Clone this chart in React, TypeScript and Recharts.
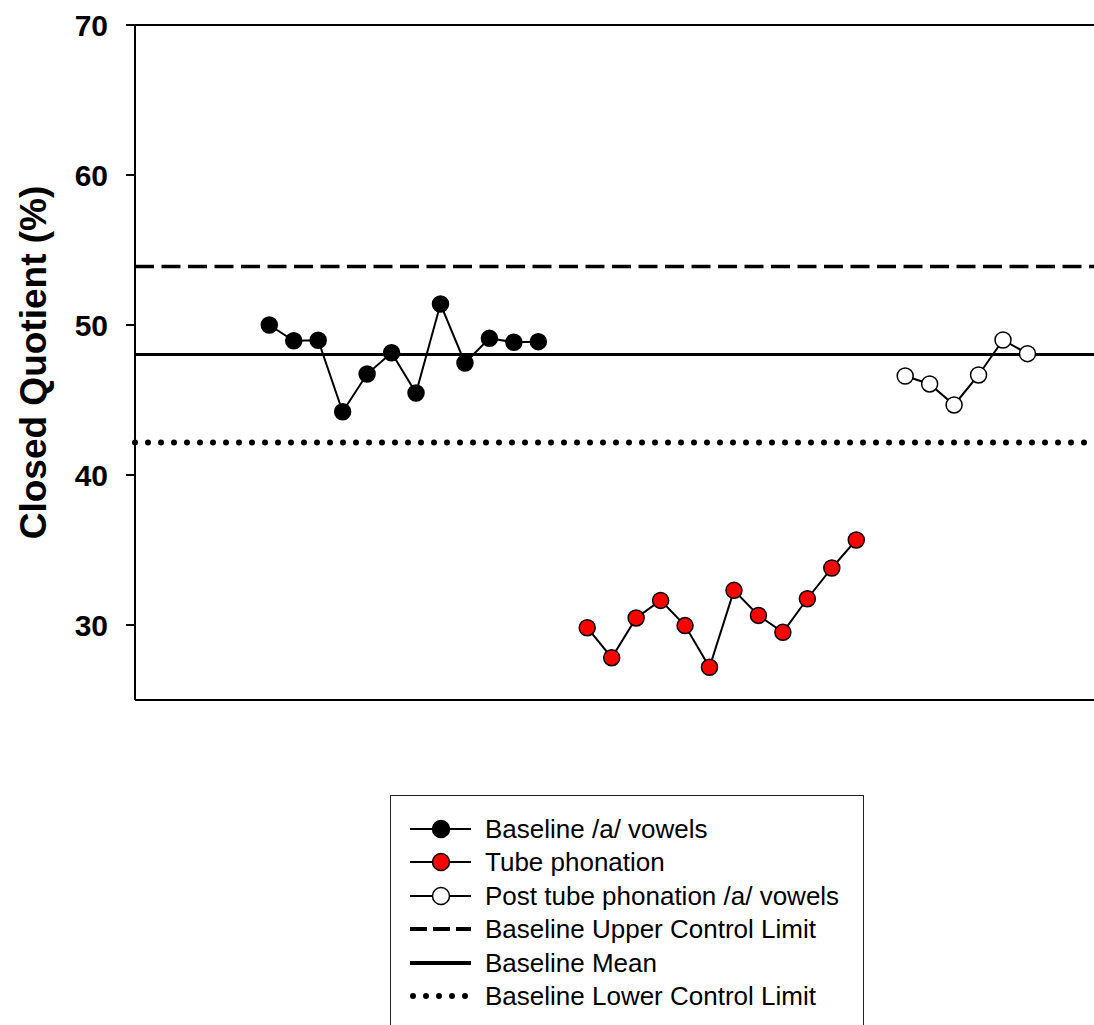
import React from 'react';
import { ComposedChart, Line, XAxis, YAxis, ReferenceLine } from 'recharts';

// session index on the x axis (gaps between the three phases)
const baselineX = [1, 2, 3, 4, 5, 6, 7, 8, 9, 10, 11, 12];
const baselineCQ = [50.0, 48.95, 48.98, 44.22, 46.73, 48.15, 45.47, 51.4, 47.47, 49.11, 48.85, 48.89];

const tubeX = [14, 15, 16, 17, 18, 19, 20, 21, 22, 23, 24, 25];
const tubeCQ = [29.82, 27.82, 30.47, 31.64, 29.96, 27.18, 32.31, 30.64, 29.51, 31.75, 33.8, 35.67];

const postX = [27, 28, 29, 30, 31, 32];
const postCQ = [46.6, 46.07, 44.67, 46.67, 49.0, 48.09];

const baselineMean = 48.03;
const upperControlLimit = 53.9;
const lowerControlLimit = 42.17;

const yTicks = [30, 40, 50, 60, 70];
const yDomain: [number, number] = [25, 70];
const xDomain: [number, number] = [-4.49, 34.72];

const FONT = 'Arial, "Liberation Sans", sans-serif';

const toPoints = (xs: number[], ys: number[]) => xs.map((x, i) => ({ x, cq: ys[i] }));

const baselineData = toPoints(baselineX, baselineCQ);
const tubeData = toPoints(tubeX, tubeCQ);
const postData = toPoints(postX, postCQ);

const YLabel = (props: any) => {
    const vb = props.viewBox || { x: 0, y: 0, height: 0 };
    const cx = vb.x + 33;
    const cy = vb.y + vb.height / 2;
    return (
        <text
            x={cx}
            y={cy}
            transform={`rotate(-90, ${cx}, ${cy})`}
            textAnchor="middle"
            dominantBaseline="central"
            fontFamily={FONT}
            fontWeight="bold"
            fontSize={37}
            fill="#000"
        >
            Closed Quotient (%)
        </text>
    );
};

type LegendRow = { label: string; kind: 'marker' | 'dash' | 'solid' | 'dot'; fill?: string };

const legendRows: LegendRow[] = [
    { label: 'Baseline /a/ vowels', kind: 'marker', fill: '#000' },
    { label: 'Tube phonation', kind: 'marker', fill: '#ff0000' },
    { label: 'Post tube phonation /a/ vowels', kind: 'marker', fill: '#fff' },
    { label: 'Baseline Upper Control Limit', kind: 'dash' },
    { label: 'Baseline Mean', kind: 'solid' },
    { label: 'Baseline Lower Control Limit', kind: 'dot' },
];

const LegendSymbol = ({ row }: { row: LegendRow }) => {
    const common = { x1: 4, x2: 65, y1: 17, y2: 17, stroke: '#000' };
    return (
        <svg width={70} height={34} style={{ position: 'absolute', left: 15, top: 0 }}>
            {row.kind === 'marker' && (
                <>
                    <line {...common} strokeWidth={2} />
                    <circle cx={35} cy={17} r={8.5} fill={row.fill} stroke="#000" strokeWidth={1.5} />
                </>
            )}
            {row.kind === 'dash' && <line {...common} strokeWidth={4} strokeDasharray="17 6" />}
            {row.kind === 'solid' && <line {...common} strokeWidth={4} />}
            {row.kind === 'dot' && (
                <line {...common} x1={7} x2={60} strokeWidth={6} strokeDasharray="0 13" strokeLinecap="round" />
            )}
        </svg>
    );
};

const ChartLegend = () => (
    <div
        style={{
            position: 'absolute',
            left: 390,
            top: 795,
            width: 472,
            height: 260,
            border: '1.5px solid #222',
            background: '#fff',
            fontFamily: FONT,
        }}
    >
        {legendRows.map((row, i) => (
            <div key={row.label} style={{ position: 'absolute', left: 0, top: 16 + i * 33.4, height: 34, width: '100%' }}>
                <LegendSymbol row={row} />
                <span style={{ position: 'absolute', left: 94, top: 0, lineHeight: '34px', fontSize: 26, color: '#000', whiteSpace: 'nowrap' }}>
                    {row.label}
                </span>
            </div>
        ))}
    </div>
);

const dotStyle = (fill: string) => ({ r: 8, fill, stroke: '#000', strokeWidth: 1.5 });

export default function App() {
    return (
        <div style={{ position: 'relative', width: 1094, height: 1025, overflow: 'hidden', background: '#fff' }}>
            <style>{`body { margin: 0; }`}</style>
            <ComposedChart width={1094} height={1025} margin={{ top: 25, right: 0, bottom: 325, left: 0 }}>
                <XAxis type="number" dataKey="x" domain={xDomain} allowDataOverflow hide />
                <YAxis
                    type="number"
                    domain={yDomain}
                    ticks={yTicks}
                    width={135}
                    tickSize={9}
                    tickMargin={18}
                    axisLine={{ stroke: '#000', strokeWidth: 2 }}
                    tickLine={{ stroke: '#000', strokeWidth: 2 }}
                    tick={{ fill: '#000', fontSize: 30, fontWeight: 'bold', fontFamily: FONT }}
                    label={{ content: <YLabel /> }}
                />
                {/* frame: top and bottom edges of the plot area */}
                <ReferenceLine y={yDomain[1]} stroke="#000" strokeWidth={2} />
                <ReferenceLine y={yDomain[0]} stroke="#000" strokeWidth={2} />
                <ReferenceLine y={upperControlLimit} stroke="#000" strokeWidth={3.5} strokeDasharray="19 7.5" />
                <ReferenceLine y={baselineMean} stroke="#000" strokeWidth={3} />
                <ReferenceLine
                    y={lowerControlLimit}
                    stroke="#000"
                    strokeWidth={6}
                    strokeDasharray="0 13"
                    strokeLinecap="round"
                />
                <Line
                    data={baselineData}
                    dataKey="cq"
                    stroke="#000"
                    strokeWidth={2}
                    dot={dotStyle('#000')}
                    activeDot={false}
                    isAnimationActive={false}
                />
                <Line
                    data={tubeData}
                    dataKey="cq"
                    stroke="#000"
                    strokeWidth={2}
                    dot={dotStyle('#ff0000')}
                    activeDot={false}
                    isAnimationActive={false}
                />
                <Line
                    data={postData}
                    dataKey="cq"
                    stroke="#000"
                    strokeWidth={2}
                    dot={dotStyle('#fff')}
                    activeDot={false}
                    isAnimationActive={false}
                />
            </ComposedChart>
            <ChartLegend />
        </div>
    );
}
